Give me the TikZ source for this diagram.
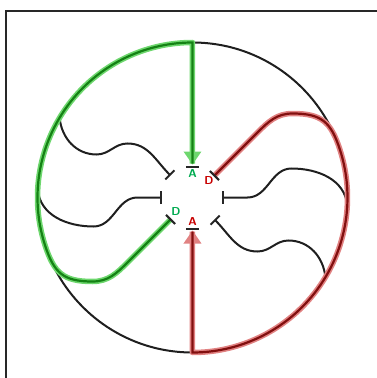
\documentclass[tikz,border=0pt]{standalone}
\usetikzlibrary{calc}
\definecolor{gdark}{RGB}{20,130,20}
\definecolor{gglow}{RGB}{110,215,110}
\definecolor{rdark}{RGB}{130,15,15}
\definecolor{rglow}{RGB}{225,130,130}
\definecolor{gtext}{RGB}{0,170,80}
\definecolor{rtext}{RGB}{200,0,0}
\definecolor{frame}{RGB}{40,40,40}
\tikzset{
  wire/.style={draw=black!88,line width=2pt},
  gline/.style={draw=gdark,line width=2.2pt},
  gglowline/.style={draw=gglow,line width=5.5pt,line join=round},
  rline/.style={draw=rdark,line width=2.2pt},
  rglowline/.style={draw=rglow,line width=5.5pt,line join=round},
  tbar/.style={draw=black!85,line width=2pt},
  lbl/.style={font=\sffamily\bfseries\fontsize{11.5}{13}\selectfont,inner sep=0pt},
}
\begin{document}
\begin{tikzpicture}[x=1pt,y=1pt]
\useasboundingbox (-192.5,-180.5) rectangle (184.5,197.5);
\clip (-192.5,-180.5) rectangle (184.5,197.5);
% frame
\draw[frame,line width=1.8pt] (-186.5,-200) -- (-186.5,186.5) -- (200,186.5);
% receptor points
\coordinate (Ag) at (90:31);
\coordinate (Dr) at (45:31);
\coordinate (Rb) at (0:31);
\coordinate (LRb) at (-45:32);
\coordinate (Ar) at (-90:31);
\coordinate (Dg) at (-135:31);
\coordinate (Lb) at (180:31);
\coordinate (ULb) at (135:32);
% circle
\draw[wire] (0,0) circle[radius=155];
% black wavy curves
\draw[wire] (149:155) to[out=275,in=180] (-96,43) to[out=0,in=180] (-65,54) to[out=0,in=135] (ULb);
\draw[wire] (177:155) to[out=275,in=180] (-99,-29) to[out=0,in=180] (-55,0) -- (Lb);
\begin{scope}[rotate=180]
\draw[wire] (149:155) to[out=275,in=180] (-96,43) to[out=0,in=180] (-65,54) to[out=0,in=135] (-45:-32);
\draw[wire] (177:155) to[out=275,in=180] (-99,-29) to[out=0,in=180] (-55,0) -- (-31,0);
\end{scope}
% green path
\draw[gglowline] (Dg) -- (-65,-65) to[out=225,in=0] (-100,-84) to[out=180,in=288,looseness=1.25] (198:155) arc[start angle=198,end angle=90,radius=155] -- ($(Ag)+(0,3)$);
\fill[gglow] (-9,46) -- (9,46) -- (0,33) -- cycle;
\draw[gline] (Dg) -- (-65,-65) to[out=225,in=0] (-100,-84) to[out=180,in=288,looseness=1.25] (198:155) arc[start angle=198,end angle=90,radius=155] -- ($(Ag)+(0,3)$);
% red path
\draw[rglowline] (Dr) -- (65,65) to[out=45,in=180] (100,84) to[out=0,in=108,looseness=1.25] (18:155) arc[start angle=18,end angle=-90,radius=155] -- ($(Ar)+(0,-3)$);
\fill[rglow] (-9,-46) -- (9,-46) -- (0,-33) -- cycle;
\draw[rline] (Dr) -- (65,65) to[out=45,in=180] (100,84) to[out=0,in=108,looseness=1.25] (18:155) arc[start angle=18,end angle=-90,radius=155] -- ($(Ar)+(0,-3)$);
% T bars
\foreach \p/\a in {Ag/90,Dr/45,Rb/0,LRb/-45,Ar/-90,Dg/-135,Lb/180,ULb/135}{
  \draw[tbar] ([shift={(\p)}]\a+90:6.5) -- ([shift={(\p)}]\a-90:6.5);
}
% labels
\node[lbl,text=gtext] (lAg) at (0,23.5) {A};
\node[lbl,text=rtext] (lDr) at (16.5,16.5) {D};
\node[lbl,text=gtext] (lDg) at (-16.5,-14.5) {D};
\node[lbl,text=rtext] (lAr) at (0,-24) {A};
\end{tikzpicture}
\end{document}
